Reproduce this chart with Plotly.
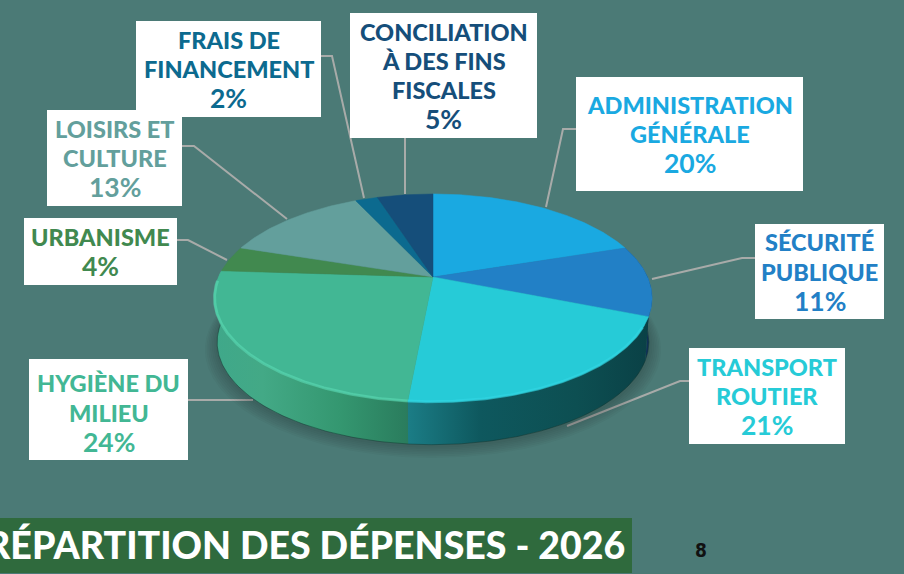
import math
import plotly.graph_objects as go

categories = ["ADMINISTRATION<br>GÉNÉRALE", "SÉCURITÉ<br>PUBLIQUE", "TRANSPORT<br>ROUTIER",
              "HYGIÈNE DU<br>MILIEU", "URBANISME", "LOISIRS ET<br>CULTURE",
              "FRAIS DE<br>FINANCEMENT", "CONCILIATION<br>À DES FINS<br>FISCALES"]
values = [20, 11, 20.5, 24.5, 4, 13, 2, 5]
percent_labels = ["20%", "11%", "21%", "24%", "4%", "13%", "2%", "5%"]
colors = ["#1AA9E1", "#2280C6", "#26CBD7", "#42B794", "#41894F", "#639F9C", "#0C6A8F", "#154E7A"]
title_text = "RÉPARTITION DES DÉPENSES - 2026"
page_number = "8"

BG = "#4B7A76"
FONT = "Lato"
CX, CY, K, A, B = 433, 277, 0.202, 99.8, 214.6
DEPTH, SCALE = 44.5, 0.985
LINE_STEP = 29.3


def proj(t, dy=0.0, sc=1.0):
    s, c = math.cos(t), math.sin(t)
    w = 1 + K * s
    return CX + B * sc * c / w, CY + dy - A * sc * s / w


def arc(t0, t1, dy=0.0, sc=1.0):
    n = max(2, int(abs(t1 - t0) * 90))
    pts = [proj(t0 + (t1 - t0) * i / n, dy, sc) for i in range(n + 1)]
    return [p[0] for p in pts], [p[1] for p in pts]


total = sum(values)
edges = [0.0]
for v in values:
    edges.append(edges[-1] + v / total * 2 * math.pi)

fig = go.Figure()


def add(x, y, **kw):
    kw.setdefault("mode", "lines")
    kw.setdefault("hoverinfo", "skip")
    kw.setdefault("showlegend", False)
    fig.add_trace(go.Scatter(x=x, y=y, **kw))


# soft shadow under the pie
for i in range(7):
    x, y = arc(0, 2 * math.pi, DEPTH + 2 + i * 0.7, SCALE + 0.008 + 0.008 * i)
    add(x, y, fill="toself", fillcolor="rgba(20,40,40,0.035)", line=dict(width=0))

# side walls
wall_styles = {
    1: [[0, "#15406A"], [1, "#0D2E52"]],
    2: [[0, "#1B7D86"], [0.3, "#0E585E"], [0.7, "#0D4F52"], [1, "#0A4146"]],
    3: [[0, "#3FA88A"], [0.25, "#43A986"], [0.65, "#349770"], [1, "#2A7C5D"]],
}
for i, scale in wall_styles.items():
    x0, y0 = arc(edges[i], edges[i + 1])
    x1, y1 = arc(edges[i], edges[i + 1], DEPTH, SCALE)
    add(x0 + x1[::-1] + x0[:1], y0 + y1[::-1] + y0[:1], fill="toself",
        fillgradient=dict(type="horizontal", colorscale=scale), line=dict(width=0))
    add(x1, y1, line=dict(color="rgba(15,50,45,0.45)", width=1))

# top faces
for i, col in enumerate(colors):
    x, y = arc(edges[i], edges[i + 1])
    add([CX] + x + [CX], [CY] + y + [CY], fill="toself", fillcolor=col,
        line=dict(color=col, width=0.5), name=categories[i].replace("<br>", " "))

# bevel highlight on the front rim
x, y = arc(edges[3], edges[4] - 0.1, 0, 0.997)
add(x, y, line=dict(color="rgba(95,225,185,0.5)", width=3))
x, y = arc(edges[2] + 0.1, edges[3], 0, 0.997)
add(x, y, line=dict(color="rgba(50,215,228,0.6)", width=3))

# white label boxes and leader lines
boxes = [(576, 77, 803, 191), (755, 224, 884, 319), (689, 348, 845, 444), (29, 359, 188, 460),
         (24, 218, 177, 285), (47, 110, 182, 206), (136, 21, 321, 117), (350, 13, 537, 138)]
text_shift = [0, 0, 0, 3, 0, 0, 0, 0]
leaders = [[(576, 129), (563, 129), (546, 207)], [(755, 258), (742, 258), (652, 279)],
           [(689, 381), (680, 381), (567, 426)], [(188, 400), (253, 400)],
           [(177, 240), (188, 240), (227, 260)], [(182, 146), (194, 146), (287, 219)],
           [(321, 56), (332, 56), (364, 198)], [(405, 138), (405, 194)]]
shapes = []
for pts in leaders:
    path = "M" + " L".join(f"{a},{b}" for a, b in pts)
    shapes.append(dict(type="path", path=path, line=dict(color="#A8ABA9", width=2), layer="below"))
for x0, y0, x1, y1 in boxes:
    shapes.append(dict(type="rect", x0=x0, y0=y0, x1=x1, y1=y1, fillcolor="white",
                       line=dict(width=0), layer="below"))
shapes.append(dict(type="rect", x0=0, y0=518, x1=632, y1=573, fillcolor="#2F6A3D",
                   line=dict(width=0), layer="below"))

annotations = []
for i, b in enumerate(boxes):
    lines = categories[i].split("<br>") + [percent_labels[i]]
    top = (b[1] + b[3]) / 2 - (len(lines) - 1) / 2 * LINE_STEP + text_shift[i]
    for j, line in enumerate(lines):
        is_pct = j == len(lines) - 1
        annotations.append(dict(x=(b[0] + b[2]) / 2, y=top + j * LINE_STEP, xanchor="center", yanchor="middle",
                                text=line, showarrow=False,
                                font=dict(family=FONT, size=26.5 if is_pct else 23.5,
                                          weight=700 if is_pct else 900, color=colors[i])))
annotations.append(dict(x=627, y=544.5, xanchor="right", yanchor="middle", showarrow=False,
                        text=title_text, font=dict(family=FONT, size=37.5, weight=900, color="white")))
annotations.append(dict(x=701, y=550, xanchor="center", yanchor="middle", showarrow=False,
                        text=page_number, font=dict(family="DejaVu Sans Condensed, Liberation Sans, sans-serif",
                                                    size=19, weight=700, color="#111111")))

fig.update_layout(
    width=904, height=574, margin=dict(l=0, r=0, t=0, b=0),
    paper_bgcolor=BG, plot_bgcolor=BG, showlegend=False,
    xaxis=dict(range=[0, 904], visible=False, fixedrange=True),
    yaxis=dict(range=[574, 0], visible=False, fixedrange=True),
    shapes=shapes, annotations=annotations,
)
fig.write_html("out.html", config=dict(displayModeBar=False),
               post_script="document.body.style.margin='0';document.body.style.overflow='hidden';")
